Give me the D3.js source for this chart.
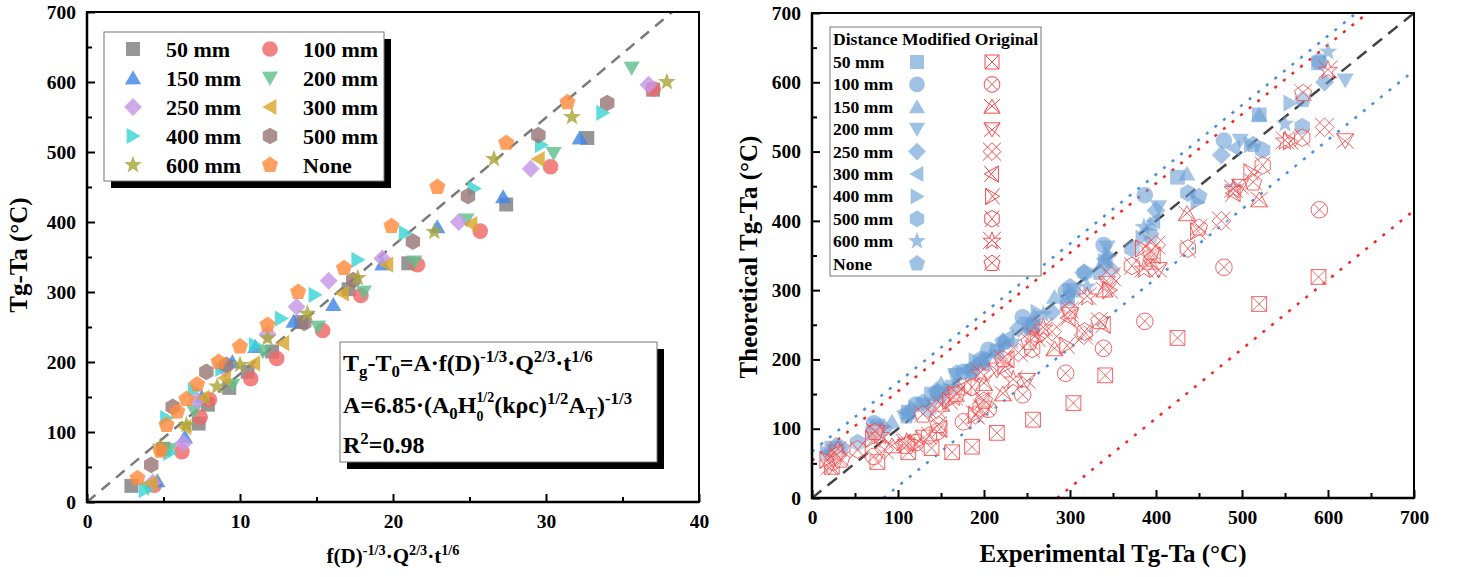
<!DOCTYPE html>
<html>
<head>
<meta charset="utf-8">
<script src="https://cdn.jsdelivr.net/npm/d3@7"></script>
<style>
  body { margin: 0; background: #fff; }
  text { font-family: "Liberation Serif", "Times New Roman", serif; font-weight: bold; fill: #000; }
</style>
</head>
<body>
<svg id="chart" width="1462" height="577"></svg>
<script>
// ---- data -------------------------------------------------------------
const distances = ["50 mm", "100 mm", "150 mm", "200 mm", "250 mm", "300 mm", "400 mm", "500 mm", "600 mm", "None"];

// f(D)^-1/3 · Q^2/3 · t^1/6 for every test, one list per distance
const scaledX = [
  [2.9, 5.0, 7.3, 7.9, 9.3, 10.5, 12.1, 14.0, 17.1, 21.0, 27.4, 32.7, 37.0],
  [4.4, 6.2, 7.4, 8.0, 10.7, 12.4, 15.4, 17.9, 21.6, 25.7, 30.3, 37.0],
  [4.6, 6.4, 7.5, 9.5, 11.0, 13.5, 16.1, 19.3, 22.9, 27.2, 32.2],
  [4.0, 5.4, 7.0, 9.5, 11.5, 15.1, 18.1, 21.4, 24.8, 30.5, 35.6],
  [4.3, 6.3, 7.2, 9.0, 11.8, 13.7, 15.8, 19.3, 24.3, 29.0, 36.7],
  [4.2, 6.4, 7.6, 9.0, 10.9, 12.8, 16.7, 19.6, 25.1, 29.5],
  [3.8, 5.4, 5.2, 7.0, 8.8, 11.0, 12.7, 14.9, 17.7, 20.8, 25.3, 29.7, 33.7],
  [4.2, 5.6, 7.8, 9.1, 14.2, 17.4, 21.3, 24.9, 29.5, 34.0],
  [4.8, 6.5, 8.5, 10.0, 11.8, 14.4, 17.7, 22.7, 26.6, 31.7, 37.9],
  [3.3, 4.8, 5.2, 5.9, 6.5, 7.2, 8.6, 10.0, 11.8, 13.8, 16.8, 19.9, 22.9, 27.4, 31.4]
];

// measured Tg-Ta (°C)
const measuredTg = [
  [23, 76, 112, 139, 163, 186, 215, 257, 304, 341, 425, 520, 589],
  [24, 72, 121, 146, 176, 205, 245, 295, 339, 387, 479, 590],
  [30, 93, 150, 200, 222, 258, 282, 340, 393, 436, 520],
  [20, 75, 130, 167, 215, 250, 300, 343, 403, 498, 620],
  [28, 84, 145, 190, 240, 279, 316, 348, 400, 476, 596],
  [27, 107, 149, 177, 198, 227, 298, 339, 397, 490],
  [17, 70, 120, 160, 190, 224, 262, 296, 346, 384, 448, 510, 556],
  [53, 136, 186, 196, 256, 317, 372, 437, 524, 570],
  [79, 110, 165, 196, 234, 269, 320, 386, 490, 550, 600],
  [34, 73, 110, 129, 147, 168, 200, 222, 253, 300, 334, 394, 450, 513, 571]
];

// theoretical Tg-Ta from the modified model
const modifiedTg = [
  [72, 100, 124, 150, 160, 182, 212, 248, 300, 342, 463, 553, 628],
  [62, 108, 135, 152, 182, 214, 261, 298, 365, 437, 516, 630],
  [75, 110, 165, 195, 228, 262, 290, 345, 395, 468, 553],
  [60, 105, 135, 178, 205, 252, 290, 362, 420, 516, 603],
  [75, 100, 155, 188, 245, 268, 325, 329, 415, 495, 600],
  [70, 125, 140, 185, 200, 232, 285, 345, 400, 505],
  [65, 92, 130, 155, 198, 220, 268, 282, 350, 375, 427, 510, 570],
  [80, 128, 185, 200, 245, 325, 360, 440, 502, 536],
  [100, 120, 160, 195, 225, 265, 305, 391, 449, 540, 644],
  [72, 95, 118, 138, 145, 180, 200, 225, 245, 305, 325, 378, 435, 510, 575]
];

// theoretical Tg-Ta from the original model
const originalTg = [
  [45, 52, 66, 72, 66, 74, 94, 113, 137, 177, 231, 280, 319],
  [52, 60, 80, 96, 110, 128, 149, 180, 216, 255, 333, 416],
  [70, 75, 135, 165, 150, 235, 215, 300, 340, 410, 430],
  [45, 95, 88, 150, 185, 170, 265, 310, 330, 450, 516],
  [60, 70, 128, 120, 210, 240, 235, 320, 365, 400, 535],
  [65, 80, 100, 160, 140, 200, 260, 250, 350, 440],
  [55, 85, 78, 140, 120, 190, 230, 220, 300, 360, 385, 470, 515],
  [70, 90, 160, 130, 215, 240, 335, 360, 480, 520],
  [90, 80, 145, 180, 170, 245, 290, 330, 445, 515, 617],
  [55, 95, 75, 120, 105, 150, 140, 200, 225, 270, 255, 355, 390, 455, 584]
];

const xTicksLeft = [0, 10, 20, 30, 40];
const xMinorLeft = [5, 15, 25, 35];
const yTicks = [0, 100, 200, 300, 400, 500, 600, 700];
const yMinor = [50, 150, 250, 350, 450, 550, 650];
const xTicksRight = [0, 100, 200, 300, 400, 500, 600, 700];
const xMinorRight = [50, 150, 250, 350, 450, 550, 650];

// reference lines (end points in data units)
const fitLine = [[0, 0], [38.25, 700]];
const parityLine = [[0, 0], [700, 700]];
const modifiedBand = [[[0, 67], [633, 700]], [[83, 0], [700, 617]]];
const originalBand = [[[0, 54], [646, 700]], [[285, 0], [700, 415]]];

// ---- styling ------------------------------------------------------------
const shapes = ["square", "circle", "up", "down", "diamond", "left", "right", "hexagon", "star", "pentagon"];
const colors = ["#7f7f7f", "#f06868", "#3f86e6", "#5fbf8c", "#c497e6", "#d8a62c", "#3ad6d6", "#9a7676", "#a9a63a", "#ff8a3d"];

function polygon(n, rot, rad) {
  return d3.range(n).map(i => {
    const a = rot + 2 * Math.PI * i / n;
    return [rad * Math.cos(a), rad * Math.sin(a)];
  });
}
function vertices(kind, r) {
  const P = Math.PI;
  switch (kind) {
    case "square": { const s = r * 0.82; return [[-s, -s], [s, -s], [s, s], [-s, s]]; }
    case "up": return polygon(3, -P / 2, r * 1.1).map(([x, y]) => [x, y + r * 0.2]);
    case "down": return polygon(3, P / 2, r * 1.1).map(([x, y]) => [x, y - r * 0.2]);
    case "left": return polygon(3, P, r * 1.1).map(([x, y]) => [x + r * 0.2, y]);
    case "right": return polygon(3, 0, r * 1.1).map(([x, y]) => [x - r * 0.2, y]);
    case "diamond": return polygon(4, -P / 2, r * 1.05);
    case "hexagon": return polygon(6, -P / 2, r * 0.98);
    case "pentagon": return polygon(5, -P / 2, r * 1.0);
    case "star": return d3.range(10).map(i => {
      const a = -P / 2 + P * i / 5, rr = i % 2 ? r * 0.45 : r * 1.1;
      return [rr * Math.cos(a), rr * Math.sin(a)];
    });
  }
  return null;
}
function shapePath(kind, r) {
  if (kind === "circle") {
    const c = r * 0.92;
    return `M${c},0A${c},${c} 0 1,1 ${-c},0A${c},${c} 0 1,1 ${c},0Z`;
  }
  const v = vertices(kind, r);
  return "M" + v.map(p => p[0].toFixed(2) + "," + p[1].toFixed(2)).join("L") + "Z";
}
function crossPath(kind, r) {
  let x0, x1, y0, y1;
  if (kind === "circle") { const c = r * 0.92 * 0.707; x0 = -c; x1 = c; y0 = -c; y1 = c; }
  else {
    const v = vertices(kind, r);
    x0 = d3.min(v, d => d[0]); x1 = d3.max(v, d => d[0]);
    y0 = d3.min(v, d => d[1]); y1 = d3.max(v, d => d[1]);
  }
  return `M${x0},${y0}L${x1},${y1}M${x1},${y0}L${x0},${y1}`;
}

const svg = d3.select("#chart");

// text with sub/superscripts
// kinds: "n" normal, "sup", "sub", and "subS"/"supS" for a stacked sub+sup pair
function richText(parent, x, y, parts, size, anchor, ratio) {
  const k = ratio || 0.68;
  const t = parent.append("text").attr("x", x).attr("y", y).attr("font-size", size)
    .attr("text-anchor", anchor || "start");
  const offsets = { n: 0, sup: -0.36, sub: 0.24, subS: 0.32, supS: -0.44 };
  let shift = 0;
  parts.forEach(([s, kind]) => {
    const target = offsets[kind] * size;
    const ts = t.append("tspan").text(s).attr("dy", (target - shift).toFixed(2));
    const fs = (kind === "subS" || kind === "supS") ? size * 0.58 : size * k;
    if (kind !== "n") ts.attr("font-size", fs.toFixed(2));
    if (kind === "supS") ts.attr("dx", (-0.5 * fs).toFixed(2));
    shift = target;
  });
  return t;
}

function drawAxes(g, x, y, xMajor, xMinor, yMajor, yMinorVals, x0, y0) {
  const style = sel => {
    sel.select(".domain").remove();
    sel.selectAll(".tick line").attr("stroke", "#000").attr("stroke-width", 2);
    sel.selectAll(".tick text").attr("font-size", 19.5).attr("fill", "#000")
      .attr("font-family", '"Liberation Serif", serif').attr("font-weight", "bold");
  };
  g.append("g").attr("transform", `translate(0,${y0})`)
    .call(d3.axisBottom(x).tickValues(xMajor).tickSize(-8).tickPadding(12).tickFormat(d3.format("d"))).call(style);
  g.append("g").attr("transform", `translate(0,${y0})`)
    .call(d3.axisBottom(x).tickValues(xMinor).tickSize(-5).tickFormat("")).call(style);
  g.append("g").attr("transform", `translate(${x0},0)`)
    .call(d3.axisLeft(y).tickValues(yMajor).tickSize(-8).tickPadding(11).tickFormat(d3.format("d"))).call(style);
  g.append("g").attr("transform", `translate(${x0},0)`)
    .call(d3.axisLeft(y).tickValues(yMinorVals).tickSize(-5).tickFormat("")).call(style);
}

// =========================================================================
// Left panel: Tg-Ta against the scaling parameter
// =========================================================================
const xL = d3.scaleLinear().domain([0, 40]).range([87, 699]);
const yL = d3.scaleLinear().domain([0, 700]).range([502, 12]);
const gL = svg.append("g");

gL.append("clipPath").attr("id", "clipL").append("rect")
  .attr("x", xL(0)).attr("y", yL(700)).attr("width", xL(40) - xL(0)).attr("height", yL(0) - yL(700));

const line = d3.line();
gL.append("path").attr("clip-path", "url(#clipL)")
  .attr("d", line(fitLine.map(([a, b]) => [xL(a), yL(b)])))
  .attr("fill", "none").attr("stroke", "#7a7a7a").attr("stroke-width", 2.5).attr("stroke-dasharray", "11,8");

distances.forEach((name, i) => {
  gL.append("g").selectAll("path").data(scaledX[i].map((v, j) => [v, measuredTg[i][j]]))
    .join("path")
    .attr("transform", d => `translate(${xL(d[0])},${yL(d[1])})`)
    .attr("d", shapePath(shapes[i], 8.5))
    .attr("fill", colors[i]).attr("fill-opacity", 0.82);
});

// frame
gL.append("rect").attr("x", xL(0)).attr("y", yL(700)).attr("width", xL(40) - xL(0)).attr("height", yL(0) - yL(700))
  .attr("fill", "none").attr("stroke", "#000").attr("stroke-width", 2);
gL.append("path").attr("d", `M${xL(0)},${yL(700)}V${yL(0)}H${xL(40)}`).attr("fill", "none").attr("stroke", "#000").attr("stroke-width", 2.5);
drawAxes(gL, xL, yL, xTicksLeft, xMinorLeft, yTicks, yMinor, xL(0), yL(0));

// legend
const legL = gL.append("g");
legL.append("rect").attr("x", 111).attr("y", 39).attr("width", 280).attr("height", 149).attr("fill", "#000");
legL.append("rect").attr("x", 104).attr("y", 32).attr("width", 280).attr("height", 149)
  .attr("fill", "#fff").attr("stroke", "#777").attr("stroke-width", 1);
distances.forEach((name, i) => {
  const col = i % 2, row = Math.floor(i / 2);
  const cy = 49 + row * 29, sx = col ? 270 : 133, tx = col ? 303 : 166;
  legL.append("path").attr("transform", `translate(${sx},${cy})`).attr("d", shapePath(shapes[i], 8.5))
    .attr("fill", colors[i]).attr("fill-opacity", 0.82);
  legL.append("text").attr("x", tx).attr("y", cy + 7.5).attr("font-size", 22).text(name);
});

// equation box
const eq = gL.append("g");
eq.append("rect").attr("x", 347).attr("y", 349).attr("width", 317).attr("height", 120).attr("fill", "#000");
eq.append("rect").attr("x", 340).attr("y", 342).attr("width", 317).attr("height", 120)
  .attr("fill", "#fff").attr("stroke", "#777").attr("stroke-width", 1);
richText(eq, 343, 371, [["T", "n"], ["g", "sub"], ["-T", "n"], ["0", "sub"], ["=A·f(D)", "n"], ["-1/3", "sup"],
  ["·Q", "n"], ["2/3", "sup"], ["·t", "n"], ["1/6", "sup"]], 24, "start", 0.7);
richText(eq, 343, 413, [["A=6.85·(A", "n"], ["0", "sub"], ["H", "n"], ["0", "subS"], ["1/2", "supS"],
  ["(kρc)", "n"], ["1/2", "sup"], ["A", "n"], ["T", "sub"], [")", "n"], ["-1/3", "sup"]], 24, "start", 0.7);
richText(eq, 343, 453, [["R", "n"], ["2", "sup"], ["=0.98", "n"]], 24, "start", 0.7);

// axis titles
richText(gL, xL(20), 563, [["f(D)", "n"], ["-1/3", "sup"], ["·Q", "n"], ["2/3", "sup"], ["·t", "n"], ["1/6", "sup"]], 21, "middle");
gL.append("text").attr("transform", `translate(27,255) rotate(-90)`).attr("text-anchor", "middle")
  .attr("font-size", 25).text("Tg-Ta (°C)");

// =========================================================================
// Right panel: theoretical vs experimental Tg-Ta
// =========================================================================
const xR = d3.scaleLinear().domain([0, 700]).range([812, 1414]);
const yR = d3.scaleLinear().domain([0, 700]).range([498, 13]);
const gR = svg.append("g");

gR.append("clipPath").attr("id", "clipR").append("rect")
  .attr("x", xR(0)).attr("y", yR(700)).attr("width", xR(700) - xR(0)).attr("height", yR(0) - yR(700));
const lines = gR.append("g").attr("clip-path", "url(#clipR)");
modifiedBand.forEach(seg => lines.append("path").attr("d", line(seg.map(([a, b]) => [xR(a), yR(b)])))
  .attr("fill", "none").attr("stroke", "#4a8fd8").attr("stroke-width", 2.5).attr("stroke-dasharray", "3,8"));
originalBand.forEach(seg => lines.append("path").attr("d", line(seg.map(([a, b]) => [xR(a), yR(b)])))
  .attr("fill", "none").attr("stroke", "#f02828").attr("stroke-width", 2.5).attr("stroke-dasharray", "3,8"));
lines.append("path").attr("d", line(parityLine.map(([a, b]) => [xR(a), yR(b)])))
  .attr("fill", "none").attr("stroke", "#444").attr("stroke-width", 2.5).attr("stroke-dasharray", "12,8");

const blue = "#6a9fd6";
const red = "#f24a4a";
distances.forEach((name, i) => {
  gR.append("g").selectAll("path").data(measuredTg[i].map((v, j) => [v, modifiedTg[i][j]]))
    .join("path")
    .attr("transform", d => `translate(${xR(d[0])},${yR(d[1])})`)
    .attr("d", shapePath(shapes[i], 9))
    .attr("fill", blue).attr("fill-opacity", 0.6);
});
distances.forEach((name, i) => {
  const g = gR.append("g").selectAll("g").data(measuredTg[i].map((v, j) => [v, originalTg[i][j]]))
    .join("g").attr("transform", d => `translate(${xR(d[0])},${yR(d[1])})`);
  g.append("path").attr("d", shapePath(shapes[i], 9)).attr("fill", "#fff").attr("fill-opacity", 0.25)
    .attr("stroke", red).attr("stroke-width", 1).attr("stroke-opacity", 0.85);
  g.append("path").attr("d", crossPath(shapes[i], 9)).attr("fill", "none")
    .attr("stroke", red).attr("stroke-width", 1).attr("stroke-opacity", 0.85);
});

gR.append("rect").attr("x", xR(0)).attr("y", yR(700)).attr("width", xR(700) - xR(0)).attr("height", yR(0) - yR(700))
  .attr("fill", "none").attr("stroke", "#000").attr("stroke-width", 2);
gR.append("path").attr("d", `M${xR(0)},${yR(700)}V${yR(0)}H${xR(700)}`).attr("fill", "none").attr("stroke", "#000").attr("stroke-width", 2.5);
drawAxes(gR, xR, yR, xTicksRight, xMinorRight, yTicks, yMinor, xR(0), yR(0));

// legend table
const legR = gR.append("g");
legR.append("rect").attr("x", 830).attr("y", 27).attr("width", 211).attr("height", 249)
  .attr("fill", "#fff").attr("stroke", "#777").attr("stroke-width", 1);
legR.append("text").attr("x", 833).attr("y", 45).attr("font-size", 17.6).text("Distance Modified Original");
distances.forEach((name, i) => {
  const cy = 62 + i * 22.4;
  legR.append("text").attr("x", 833).attr("y", cy + 6).attr("font-size", 17.6).text(name);
  legR.append("path").attr("transform", `translate(917,${cy})`).attr("d", shapePath(shapes[i], 8.5))
    .attr("fill", blue).attr("fill-opacity", 0.65);
  legR.append("path").attr("transform", `translate(992,${cy})`).attr("d", shapePath(shapes[i], 8.5))
    .attr("fill", "none").attr("stroke", red).attr("stroke-width", 1);
  legR.append("path").attr("transform", `translate(992,${cy})`).attr("d", crossPath(shapes[i], 8.5))
    .attr("fill", "none").attr("stroke", red).attr("stroke-width", 1);
});

// axis titles
gR.append("text").attr("x", xR(350)).attr("y", 562).attr("text-anchor", "middle").attr("font-size", 25)
  .text("Experimental Tg-Ta (°C)");
gR.append("text").attr("transform", `translate(757,257) rotate(-90)`).attr("text-anchor", "middle")
  .attr("font-size", 25).text("Theoretical Tg-Ta (°C)");
</script>
</body>
</html>
